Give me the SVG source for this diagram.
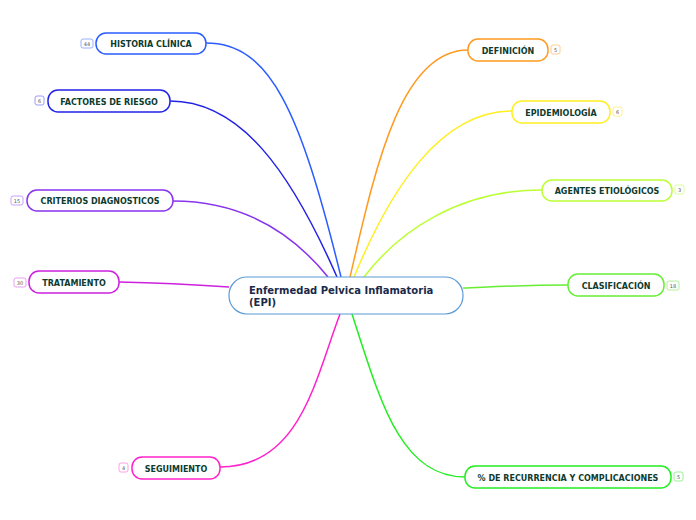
<svg xmlns="http://www.w3.org/2000/svg" width="696" height="520" viewBox="0 0 696 520">
<style>
.n{fill:#fff;stroke-width:1.5}
.t{font-family:"DejaVu Sans",Verdana,sans-serif;font-weight:bold;font-size:8px;fill:#0d3b2e;text-anchor:middle}
.b{fill:#fff;stroke-width:1}
.bt{font-family:"DejaVu Sans",sans-serif;font-size:5px;fill:#555;text-anchor:middle}
.c{fill:none;stroke-width:1.5}
.ct{font-family:"DejaVu Sans",Verdana,sans-serif;font-weight:bold;font-size:10px;fill:#1a2a4a}
</style>
<rect width="696" height="520" fill="#fff"/>
<g id="connectors">
<path class="c" stroke="#2a5cff" d="M206,43 C270,43 300,110 341,277"/>
<path class="c" stroke="#2222e6" d="M170,101 C240,101 290,170 337,277"/>
<path class="c" stroke="#8833ee" d="M173,201 C240,201 290,230 328,277"/>
<path class="c" stroke="#cc22dd" d="M119,282 C170,283 200,285 229,287"/>
<path class="c" stroke="#ff22cc" d="M220,467 C300,467 315,380 340,314"/>
<path class="c" stroke="#ff9a1f" d="M468,50 C400,50 375,170 350,277"/>
<path class="c" stroke="#ffee22" d="M512,111 C440,111 390,190 354,277"/>
<path class="c" stroke="#bbff33" d="M542,190 C460,190 400,230 364,277"/>
<path class="c" stroke="#66ee33" d="M568,285 C520,285 490,287 463,288"/>
<path class="c" stroke="#22ee22" d="M465,477 C400,477 380,400 352,314"/>
</g>
<g id="center">
<rect x="229" y="277" width="234" height="37" rx="18" fill="#fff" stroke="#5b9bd5" stroke-width="1.2"/>
<text class="ct" x="249" y="294">Enfermedad Pelvica Inflamatoria</text>
<text class="ct" x="249" y="306">(EPI)</text>
</g>
<g id="historia">
<rect class="n" x="96" y="33" width="110" height="21" rx="10" stroke="#2a5cff"/>
<text class="t" x="151" y="47">HISTORIA CLÍNICA</text>
<rect class="b" x="81" y="39" width="12" height="9" rx="2" stroke="#9ab0ff"/>
<text class="bt" x="87" y="45.5">44</text>
</g>
<g id="factores">
<rect class="n" x="48" y="90" width="122" height="22" rx="10" stroke="#2222e6"/>
<text class="t" x="109" y="104.5">FACTORES DE RIESGO</text>
<rect class="b" x="35" y="96" width="9" height="9" rx="2" stroke="#9a9aff"/>
<text class="bt" x="39.5" y="102.5">6</text>
</g>
<g id="criterios">
<rect class="n" x="27" y="190" width="146" height="21" rx="10" stroke="#8833ee"/>
<text class="t" x="100" y="204">CRITERIOS DIAGNOSTICOS</text>
<rect class="b" x="11" y="196" width="12" height="9" rx="2" stroke="#c8a0ff"/>
<text class="bt" x="17" y="202.5">15</text>
</g>
<g id="tratamiento">
<rect class="n" x="29" y="271" width="90" height="22" rx="10" stroke="#cc22dd"/>
<text class="t" x="74" y="285.5">TRATAMIENTO</text>
<rect class="b" x="14" y="278" width="12" height="9" rx="2" stroke="#e8a0f0"/>
<text class="bt" x="20" y="284.5">30</text>
</g>
<g id="seguimiento">
<rect class="n" x="132" y="457" width="88" height="22" rx="10" stroke="#ff22cc"/>
<text class="t" x="176" y="471.5">SEGUIMIENTO</text>
<rect class="b" x="119" y="463" width="9" height="9" rx="2" stroke="#ffa0e0"/>
<text class="bt" x="123.5" y="469.5">4</text>
</g>
<g id="definicion">
<rect class="n" x="468" y="39" width="80" height="22" rx="10" stroke="#ff9a1f"/>
<text class="t" x="508" y="53.5">DEFINICIÓN</text>
<rect class="b" x="551" y="45" width="9" height="9" rx="2" stroke="#ffcc90"/>
<text class="bt" x="555.5" y="51.5">5</text>
</g>
<g id="epidemiologia">
<rect class="n" x="512" y="101" width="98" height="22" rx="10" stroke="#ffee22"/>
<text class="t" x="561" y="115.5">EPIDEMIOLOGÍA</text>
<rect class="b" x="613" y="107" width="9" height="9" rx="2" stroke="#fff090"/>
<text class="bt" x="617.5" y="113.5">6</text>
</g>
<g id="agentes">
<rect class="n" x="542" y="180" width="130" height="21" rx="10" stroke="#bbff33"/>
<text class="t" x="607" y="194">AGENTES ETIOLÓGICOS</text>
<rect class="b" x="675" y="185" width="9" height="9" rx="2" stroke="#d8ff99"/>
<text class="bt" x="679.5" y="191.5">3</text>
</g>
<g id="clasificacion">
<rect class="n" x="568" y="274" width="96" height="22" rx="10" stroke="#66ee33"/>
<text class="t" x="616" y="288.5">CLASIFICACIÓN</text>
<rect class="b" x="667" y="281" width="12" height="9" rx="2" stroke="#b0f099"/>
<text class="bt" x="673" y="287.5">18</text>
</g>
<g id="recurrencia">
<rect class="n" x="465" y="466" width="206" height="22" rx="10" stroke="#22ee22"/>
<text class="t" x="568" y="480.5">% DE RECURRENCIA Y COMPLICACIONES</text>
<rect class="b" x="674" y="472" width="9" height="9" rx="2" stroke="#99f099"/>
<text class="bt" x="678.5" y="478.5">5</text>
</g>
</svg>
